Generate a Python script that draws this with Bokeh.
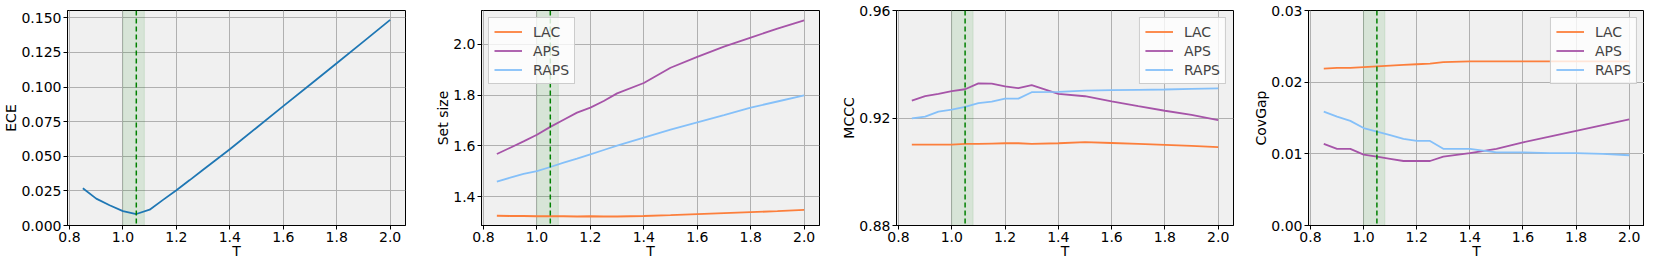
from bokeh.plotting import figure
from bokeh.layouts import row
from bokeh.models import Range1d, FixedTicker, NumeralTickFormatter, BoxAnnotation, Span, Legend, LegendItem
from bokeh.embed import file_html
from bokeh.resources import INLINE

T = [0.85, 0.9, 0.95, 1.0, 1.05, 1.1, 1.15, 1.2, 1.25, 1.3, 1.4, 1.5, 1.6, 1.7, 1.8, 1.9, 2.0]

ece = [0.0269, 0.0194, 0.0146, 0.0104, 0.0083, 0.0114, 0.0185, 0.0255, 0.0328, 0.0403,
       0.0551, 0.0706, 0.0862, 0.1017, 0.1172, 0.1328, 0.1485]

setsize_lac = [1.325, 1.324, 1.324, 1.323, 1.323, 1.323, 1.322, 1.323, 1.322, 1.322,
               1.324, 1.327, 1.331, 1.335, 1.339, 1.343, 1.348]
setsize_aps = [1.568, 1.593, 1.618, 1.644, 1.675, 1.703, 1.731, 1.751, 1.777, 1.807,
               1.848, 1.908, 1.951, 1.991, 2.027, 2.062, 2.095]
setsize_raps = [1.459, 1.475, 1.490, 1.501, 1.517, 1.534, 1.550, 1.567, 1.584, 1.601,
                1.633, 1.664, 1.693, 1.721, 1.751, 1.775, 1.799]

mccc_lac = [0.9101, 0.9101, 0.9101, 0.9101, 0.9104, 0.9104, 0.9105, 0.9106, 0.9106, 0.9104,
            0.9106, 0.9110, 0.9107, 0.9104, 0.9100, 0.9096, 0.9092]
mccc_aps = [0.9265, 0.9281, 0.9290, 0.9300, 0.9307, 0.9329, 0.9328, 0.9318, 0.9311, 0.9322,
            0.9290, 0.9281, 0.9262, 0.9244, 0.9227, 0.9212, 0.9192]
mccc_raps = [0.9199, 0.9205, 0.9224, 0.9231, 0.9241, 0.9255, 0.9261, 0.9272, 0.9272, 0.9296,
             0.9297, 0.9302, 0.9304, 0.9305, 0.9306, 0.9308, 0.9310]

covgap_lac = [0.0219, 0.0220, 0.0220, 0.0221, 0.0222, 0.0223, 0.0224, 0.0225, 0.0226, 0.0228,
              0.0229, 0.0229, 0.0229, 0.0229, 0.0229, 0.0229, 0.0229]
covgap_aps = [0.0114, 0.0107, 0.0107, 0.0099, 0.0096, 0.0093, 0.0090, 0.0090, 0.0090, 0.0096,
              0.0101, 0.0107, 0.0116, 0.0124, 0.0132, 0.0140, 0.0148]
covgap_raps = [0.0159, 0.0152, 0.0146, 0.0136, 0.0131, 0.0126, 0.0121, 0.0118, 0.0118, 0.0107,
               0.0107, 0.0102, 0.0102, 0.0101, 0.0101, 0.0100, 0.0098]

x_ticks = [0.8, 1.0, 1.2, 1.4, 1.6, 1.8, 2.0]
series_names = ["LAC", "APS", "RAPS"]
colors = ["#fc7f3c", "#a654a8", "#85c0f9"]
best_T = 1.05
band = (1.0, 1.08)

FONT = "DejaVu Sans"
FS = "14px"
TOP = 10
FRAME_H = 215
BOTTOM = 34


def make_fig(frame_w, bl, br, ylabel, yrange, yticks, yfmt):
    p = figure(frame_width=frame_w, frame_height=FRAME_H, output_backend="svg",
               toolbar_location=None,
               x_range=Range1d(0.7925, 2.0575), y_range=Range1d(*yrange),
               min_border_left=bl, min_border_right=br, min_border_top=TOP,
               min_border_bottom=BOTTOM)
    p.background_fill_color = "#f0f0f0"
    p.border_fill_color = "white"
    p.outline_line_color = "black"
    p.outline_line_width = 1
    p.grid.grid_line_color = "#b0b0b0"
    p.grid.grid_line_width = 1
    p.xaxis.ticker = FixedTicker(ticks=x_ticks)
    p.yaxis.ticker = FixedTicker(ticks=yticks)
    p.xaxis.formatter = NumeralTickFormatter(format="0.0")
    p.yaxis.formatter = NumeralTickFormatter(format=yfmt)
    p.xaxis.axis_label = "T"
    p.yaxis.axis_label = ylabel
    for ax in p.axis:
        ax.axis_line_color = "black"
        ax.major_tick_line_color = "black"
        ax.major_tick_in = 0
        ax.major_tick_out = 4
        ax.minor_tick_line_color = None
        ax.major_label_text_font = FONT
        ax.major_label_text_font_size = FS
        ax.major_label_text_color = "black"
        ax.axis_label_text_font = FONT
        ax.axis_label_text_font_size = FS
        ax.axis_label_text_font_style = "normal"
        ax.axis_label_text_color = "black"
        ax.major_label_standoff = 2
    p.xaxis.axis_label_standoff = -2
    p.yaxis.axis_label_standoff = -1
    p.add_layout(BoxAnnotation(left=band[0], right=band[1], fill_color="green", fill_alpha=0.1,
                               line_color="green", line_alpha=0.1, level="underlay"))
    p.add_layout(Span(location=best_T, dimension="height", line_color="green",
                      line_dash="5 3", line_width=1.5))
    return p


def add_legend(p, renderers, loc):
    items = [LegendItem(label=n, renderers=[r]) for n, r in zip(series_names, renderers)]
    leg = Legend(items=items, location=loc, margin=7, padding=5, spacing=2,
                 label_text_font=FONT, label_text_font_size=FS, label_height=17,
                 glyph_width=28, glyph_height=17, label_standoff=11,
                 border_line_color="#cccccc", border_line_alpha=1,
                 background_fill_color="white", background_fill_alpha=0.8)
    p.add_layout(leg)


p1 = make_fig(338, 66, 27, "ECE", (0.0, 0.1553),
              [0.0, 0.025, 0.05, 0.075, 0.1, 0.125, 0.15], "0.000")
p1.line(T, ece, line_color="#1f77b4", line_width=1.8)

p2 = make_fig(338, 48, 19, "Set size", (1.2865, 2.1335), [1.4, 1.6, 1.8, 2.0], "0.0")
r2 = [p2.line(T, ys, line_color=c, line_width=1.8)
      for ys, c in zip([setsize_lac, setsize_aps, setsize_raps], colors)]
add_legend(p2, r2, "top_left")

p3 = make_fig(337, 57, 17, "MCCC", (0.88, 0.96), [0.88, 0.92, 0.96], "0.00")
r3 = [p3.line(T, ys, line_color=c, line_width=1.8)
      for ys, c in zip([mccc_lac, mccc_aps, mccc_raps], colors)]
add_legend(p3, r3, "top_right")

p4 = make_fig(336, 57, 0, "CovGap", (0.0, 0.03), [0.0, 0.01, 0.02, 0.03], "0.00")
r4 = [p4.line(T, ys, line_color=c, line_width=1.8)
      for ys, c in zip([covgap_lac, covgap_aps, covgap_raps], colors)]
add_legend(p4, r4, "top_right")

layout = row(p1, p2, p3, p4)
open("out.html", "w").write(file_html(layout, INLINE))
